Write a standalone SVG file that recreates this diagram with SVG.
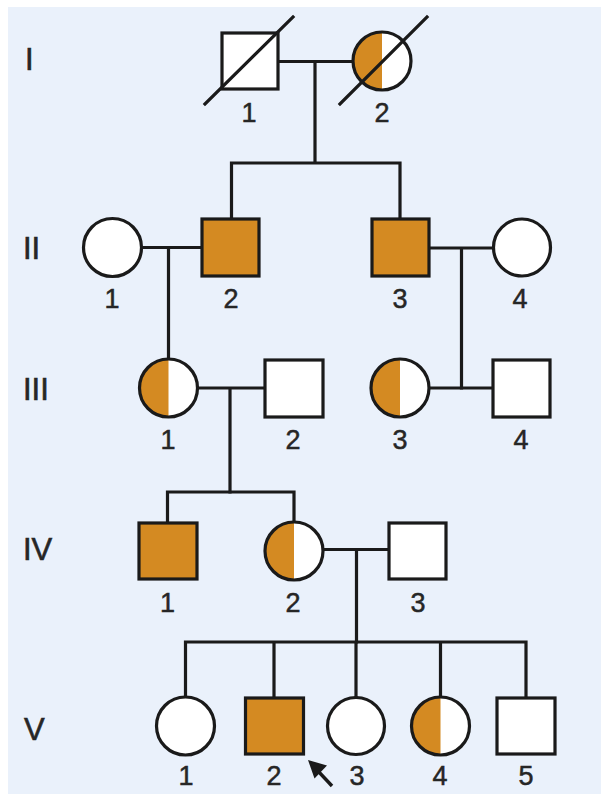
<svg xmlns="http://www.w3.org/2000/svg" width="601" height="794" viewBox="0 0 601 794">
<style>
.bg{fill:#eaf1fb}
.sym{fill:#ffffff;stroke:#1a1a1a;stroke-width:3.2}
.aff{fill:#d48a22;stroke:#1a1a1a;stroke-width:3.2}
.half{fill:#d48a22}
.ol{fill:none;stroke:#1a1a1a;stroke-width:3.2}
.ln{fill:none;stroke:#1a1a1a;stroke-width:3.2;stroke-linecap:square}
.num{font-family:"Liberation Sans",Arial,sans-serif;font-size:27px;fill:#262626;stroke:#262626;stroke-width:0.5;text-anchor:middle}
.gen{font-family:"Liberation Sans",Arial,sans-serif;font-size:31px;fill:#262626;stroke:#262626;stroke-width:0.6}
</style>
<rect x="0" y="0" width="601" height="794" fill="#ffffff"/>
<rect class="bg" x="8" y="7" width="593" height="787"/>

<g id="generation-labels">
<text class="gen" x="25" y="70">I</text>
<text class="gen" x="23" y="259">II</text>
<text class="gen" x="23" y="400">III</text>
<text class="gen" x="23" y="560">IV</text>
<text class="gen" x="24" y="740">V</text>
</g>

<g id="connectors">
<path class="ln" d="M278 61.5H353 M315 61.5V163 M231.5 163H400 M231.5 163V219 M400 163V219"/>
<path class="ln" d="M141.5 247.5H202 M168.5 247.5V359"/>
<path class="ln" d="M429 248H493.5 M461.5 248V388"/>
<path class="ln" d="M197.5 388H265 M230 388V492"/>
<path class="ln" d="M429 388H493"/>
<path class="ln" d="M167.5 492H294 M167.5 492V523 M294 492V522"/>
<path class="ln" d="M323 549.5H389 M356.5 549.5V642"/>
<path class="ln" d="M185.5 642H526 M185.5 642V697 M274 642V698 M356 642V697 M440.5 642V697 M526 642V698"/>
</g>

<g id="I-1">
<rect class="sym" x="222" y="33" width="56" height="56"/>
<line class="ln" x1="205" y1="104" x2="293" y2="17"/>
<text class="num" x="249" y="122">1</text>
</g>
<g id="I-2">
<circle cx="382" cy="61" r="29" fill="#ffffff"/>
<path class="half" d="M382 32A29 29 0 0 0 382 90Z"/>
<circle class="ol" cx="382" cy="61" r="29"/>
<line class="ln" x1="340" y1="104" x2="427" y2="17"/>
<text class="num" x="382" y="122">2</text>
</g>

<g id="II-1">
<circle class="sym" cx="112.5" cy="247.5" r="29"/>
<text class="num" x="112" y="308">1</text>
</g>
<g id="II-2">
<rect class="aff" x="202" y="219" width="57" height="57"/>
<text class="num" x="231" y="308">2</text>
</g>
<g id="II-3">
<rect class="aff" x="372" y="219" width="57" height="57"/>
<text class="num" x="400" y="308">3</text>
</g>
<g id="II-4">
<circle class="sym" cx="522" cy="247.5" r="28.5"/>
<text class="num" x="520" y="308">4</text>
</g>

<g id="III-1">
<circle cx="168.5" cy="388" r="29" fill="#ffffff"/>
<path class="half" d="M168.5 359A29 29 0 0 0 168.5 417Z"/>
<circle class="ol" cx="168.5" cy="388" r="29"/>
<text class="num" x="168" y="449">1</text>
</g>
<g id="III-2">
<rect class="sym" x="265" y="360" width="58" height="57"/>
<text class="num" x="293" y="449">2</text>
</g>
<g id="III-3">
<circle cx="400" cy="388" r="29" fill="#ffffff"/>
<path class="half" d="M400 359A29 29 0 0 0 400 417Z"/>
<circle class="ol" cx="400" cy="388" r="29"/>
<text class="num" x="400" y="449">3</text>
</g>
<g id="III-4">
<rect class="sym" x="493" y="360" width="57" height="57"/>
<text class="num" x="521" y="449">4</text>
</g>

<g id="IV-1">
<rect class="aff" x="139" y="523" width="58" height="56"/>
<text class="num" x="167.5" y="612">1</text>
</g>
<g id="IV-2">
<circle cx="294" cy="551" r="29" fill="#ffffff"/>
<path class="half" d="M294 522A29 29 0 0 0 294 580Z"/>
<circle class="ol" cx="294" cy="551" r="29"/>
<text class="num" x="293" y="612">2</text>
</g>
<g id="IV-3">
<rect class="sym" x="389" y="523" width="57" height="56"/>
<text class="num" x="418" y="612">3</text>
</g>

<g id="V-1">
<circle class="sym" cx="185.5" cy="726" r="29"/>
<text class="num" x="186" y="785">1</text>
</g>
<g id="V-2">
<rect class="aff" x="245.5" y="698" width="58" height="56"/>
<text class="num" x="274" y="785">2</text>
</g>
<g id="V-3">
<circle class="sym" cx="356" cy="726" r="28.5"/>
<text class="num" x="357" y="785">3</text>
</g>
<g id="V-4">
<circle cx="440.5" cy="726" r="29" fill="#ffffff"/>
<path class="half" d="M440.5 697A29 29 0 0 0 440.5 755Z"/>
<circle class="ol" cx="440.5" cy="726" r="29"/>
<text class="num" x="440" y="785">4</text>
</g>
<g id="V-5">
<rect class="sym" x="497" y="698" width="58" height="56"/>
<text class="num" x="526" y="785">5</text>
</g>

<g id="proband-arrow">
<line x1="318" y1="771" x2="332" y2="786" stroke="#1a1a1a" stroke-width="3.4"/>
<polygon points="308,760 327,765.5 314.5,778.5" fill="#1a1a1a"/>
</g>
</svg>
